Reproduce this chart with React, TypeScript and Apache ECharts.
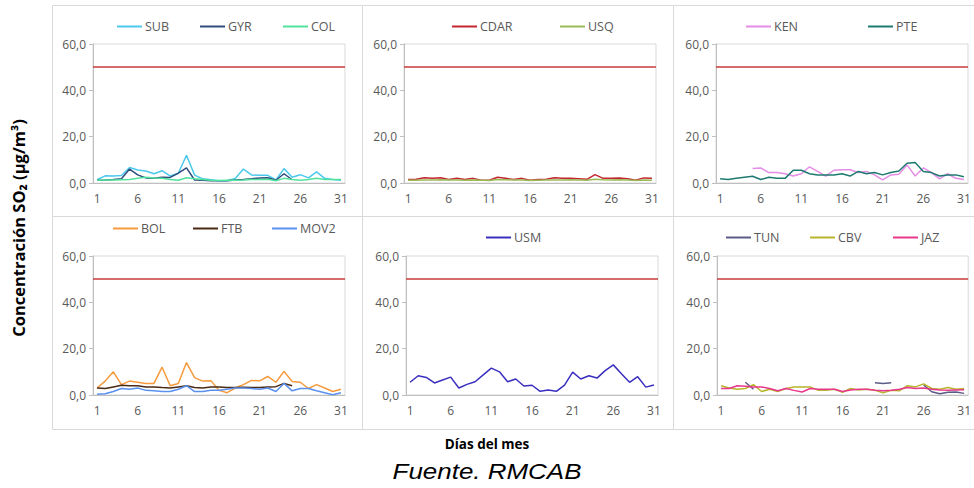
import { useEffect, useRef } from 'react';
import * as echarts from 'echarts';

// Días del mes (eje X)
const dias = [
  '1', '2', '3', '4', '5', '6', '7', '8', '9', '10', '11', '12', '13', '14', '15', '16',
  '17', '18', '19', '20', '21', '22', '23', '24', '25', '26', '27', '28', '29', '30', '31',
];

const norma = 50;

// Concentraciones diarias de SO2 (µg/m³) por estación
const sub = [1.4, 3.1, 3, 3.2, 6.7, 5.6, 5.2, 4, 5.3, 3, 4.2, 12, 3.4, 1.8, 1.4, 1, 1.1, 1.9, 6, 3.5, 3.3, 3.3, 1.3, 6.2, 2.5, 3.6, 2.2, 4.8, 2, 1.5, 1.2];
const gyr = [1.2, 1.3, 1.5, 1.8, 6, 3.5, 2.2, 2, 2.5, 2.4, 4.3, 6.5, 1.3, 1.2, 1, 1, 1, 1.3, 1.5, 1.8, 2.2, 2.3, 1.2, 4, 1.4, null, null, null, null, null, null];
const col = [1.2, 1.3, 1.3, 1.4, 1.5, 2, 2.5, 2.2, 2, 1.5, 1.2, 2.3, 1.8, 1.5, 1.2, 1.1, 1.2, 1.2, 1.3, 1.5, 1.5, 1.6, 1, 2, 1.5, 1.2, 1.5, 2, 1.5, 1.5, 1.5];

const cdar = [1.5, 1.6, 2.3, 2, 2.3, 1.5, 2, 1.5, 2, 1.2, 1.2, 2.5, 2, 1.5, 2, 1.2, 1.5, 1.6, 2.3, 2, 2, 1.8, 1.6, 3.6, 2, 2, 2.2, 1.8, 1.2, 2.2, 2];
const usq = [1.2, 1.2, 1.3, 1.3, 1.4, 1.3, 1.3, 1.2, 1.3, 1.2, 1.1, 1.5, 1.4, 1.3, 1.3, 1.1, 1.2, 1.3, 1.3, 1.3, 1.4, 1.3, 1.2, 1.6, 1.4, 1.3, 1.4, 1.3, 1.1, 1.3, 1.2];

const ken = [null, null, null, null, 6.3, 6.5, 4.5, 4.5, 4, 3, 4, 7, 5, 3, 5.5, 5.7, 5.7, 4.5, 5, 3.5, 1.3, 3.5, 3.8, 7.8, 3, 6.5, 4.5, 1.8, 4, 2, 1.5];
const pte = [1.8, 1.5, 2, 2.5, 2.9, 1.5, 2.5, 2, 2, 5.5, 5.5, 4, 3.5, 3.5, 3.5, 4, 3, 5, 4, 4.5, 3.5, 4.5, 5.2, 8.5, 8.8, 5, 4.5, 3, 3.5, 3.5, 2.7];

const bol = [3, 6, 10, 4.5, 6, 5.5, 5, 5, 12, 4, 5, 14, 7.5, 6, 6.2, 2, 1, 3, 4.5, 6.3, 6.1, 8, 5.5, 10.2, 5.8, 5.5, 2.8, 4.5, 3, 1.5, 2.5];
const ftb = [3, 2.8, 3.5, 4.2, 4, 4, 3.5, 3.5, 3.2, 3, 3.5, 4, 3.2, 3, 3.5, 3.5, 3.2, 3.2, 3.3, 3.2, 3.2, 3.4, 3.6, 5, 4, null, null, null, null, null, null];
const mov2 = [0.3, 0.5, 1.5, 2.8, 2.5, 3, 2, 1.8, 1.5, 1.5, 2.5, 4, 1.5, 1.5, 2, 2, 2.5, 3, 3, 2.8, 2.5, 3, 1.5, 5, 1.8, 2.8, 2.8, 1.8, 1, 0.1, 1];

const usm = [5.5, 8.3, 7.6, 5.2, 6.5, 7.7, 3, 4.6, 5.7, 8.7, 11.6, 10, 5.7, 6.9, 3.9, 4.2, 1.6, 2.2, 1.6, 4.3, 9.9, 6.9, 8.3, 7.3, 10.5, 13, 9.2, 5.5, 7.9, 3.4, 4.3];

const tun = [null, null, null, 5.5, 2.5, null, null, null, null, null, null, null, null, null, null, null, null, null, null, 5.3, 5, 5.3, null, null, null, 4.3, 1.4, 0.5, 1.2, 1.3, 0.7];
const cbv = [4, 3, 2.5, 2.8, 4.5, 1.5, 2.5, 1.5, 2.8, 3.5, 3.5, 3.5, 2, 2, 2.5, 1.2, 2.8, 2.2, 2.5, 2, 1, 2, 1.8, 4, 3.5, 4.8, 2.8, 2.5, 3.2, 2.5, 2.8];
const jaz = [2.8, 2.8, 4, 3.8, 3.5, 3.5, 2.8, 1.8, 2.8, 2, 1.3, 2.8, 2.5, 2.5, 2.5, 1.5, 2.2, 2.5, 2.5, 2, 1.8, 2, 2.5, 3.2, 2.8, 3, 2.5, 2.2, 2, 2.2, 2.3];

const FONT = '"Open Sans", "Noto Sans", sans-serif';
const GRAY = '#595959';
const AXIS = '#bfbfbf';
const BORDER = '#d9d9d9';
const LIMIT = '#c83a3a';

// paneles: posición del área de trazado y leyendas
const panels = [
  { left: 93, top: 44, legendY: 20, items: [
    { name: 'SUB', data: sub, color: '#4cc8ec', lx: 117 },
    { name: 'GYR', data: gyr, color: '#2f4d7c', lx: 200 },
    { name: 'COL', data: col, color: '#50e39c', lx: 283 },
  ] },
  { left: 404, top: 44, legendY: 20, items: [
    { name: 'CDAR', data: cdar, color: '#c4262e', lx: 452 },
    { name: 'USQ', data: usq, color: '#9bbb59', lx: 560 },
  ] },
  { left: 716, top: 44, legendY: 20, items: [
    { name: 'KEN', data: ken, color: '#e58de6', lx: 746 },
    { name: 'PTE', data: pte, color: '#1e7a70', lx: 868 },
  ] },
  { left: 93, top: 256, legendY: 222, items: [
    { name: 'BOL', data: bol, color: '#f79a3e', lx: 113 },
    { name: 'FTB', data: ftb, color: '#4a2a12', lx: 193 },
    { name: 'MOV2', data: mov2, color: '#5a91ee', lx: 272 },
  ] },
  { left: 406, top: 256, legendY: 231, items: [
    { name: 'USM', data: usm, color: '#3a2fbe', lx: 486 },
  ] },
  { left: 717, top: 256, legendY: 231, items: [
    { name: 'TUN', data: tun, color: '#5b5b88', lx: 726 },
    { name: 'CBV', data: cbv, color: '#b8b42c', lx: 810 },
    { name: 'JAZ', data: jaz, color: '#e8388c', lx: 893 },
  ] },
];

export default function App() {
  const chartRef = useRef<HTMLDivElement>(null);

  useEffect(() => {
    if (!chartRef.current) return;
    const chart = echarts.init(chartRef.current, null, { renderer: 'svg' });

    const grid: any[] = [];
    const xAxis: any[] = [];
    const yAxis: any[] = [];
    const series: any[] = [];
    const legend: any[] = [];

    panels.forEach((p, i) => {
      grid.push({
        left: p.left, top: p.top, width: 252, height: 139,
        show: true, borderColor: BORDER, borderWidth: 1,
      });
      xAxis.push({
        type: 'category', gridIndex: i, data: dias, boundaryGap: true,
        axisLine: { lineStyle: { color: AXIS } },
        axisTick: { interval: 5, length: 4, lineStyle: { color: AXIS } },
        axisLabel: { interval: 4, color: GRAY, fontSize: 12, fontFamily: FONT, margin: 9 },
        splitLine: { show: false },
      });
      yAxis.push({
        type: 'value', gridIndex: i, min: 0, max: 60, interval: 20,
        axisLine: { show: true, lineStyle: { color: AXIS } },
        axisTick: { show: true, length: 4, lineStyle: { color: AXIS } },
        splitLine: { show: false },
        axisLabel: {
          color: GRAY, fontSize: 12, fontFamily: FONT, margin: 7,
          formatter: (v: number) => v.toFixed(1).replace('.', ','),
        },
      });
      p.items.forEach((it, j) => {
        series.push({
          type: 'line', name: it.name, xAxisIndex: i, yAxisIndex: i,
          data: it.data, symbol: 'none', connectNulls: false,
          lineStyle: { color: it.color, width: 1.5 },
          itemStyle: { color: it.color },
          markLine: j === 0 ? {
            silent: true, symbol: 'none', label: { show: false },
            lineStyle: { color: LIMIT, width: 1.5, type: 'solid' },
            data: [{ yAxis: norma }],
          } : undefined,
        });
        legend.push({
          left: it.lx, top: p.legendY, padding: 0, data: [it.name],
          icon: 'rect', itemWidth: 25, itemHeight: 2,
          selectedMode: false,
          textStyle: { color: GRAY, fontSize: 12.5, fontFamily: FONT, padding: [0, 0, 0, -2] },
        });
      });
    });

    const box = (x: number, y: number, w: number, h: number) => ({
      type: 'rect', silent: true, z: -1,
      shape: { x, y, width: w, height: h },
      style: { fill: 'none', stroke: BORDER, lineWidth: 1 },
    });

    chart.setOption({
      animation: false,
      backgroundColor: '#ffffff',
      grid, xAxis, yAxis, series, legend,
      graphic: [
        box(52.5, 5.5, 310, 211),
        box(362.5, 5.5, 311, 211),
        box(673.5, 5.5, 310, 211),
        box(52.5, 216.5, 310, 213),
        box(362.5, 216.5, 311, 213),
        box(673.5, 216.5, 310, 213),
        {
          type: 'text', x: 18, y: 228, rotation: Math.PI / 2,
          style: {
            text: 'Concentración SO₂ (µg/m³)', fill: '#000',
            font: `bold 16.5px ${FONT}`, textAlign: 'center', textVerticalAlign: 'middle',
          },
        },
        {
          type: 'text', x: 487, y: 444,
          style: {
            text: 'Días del mes', fill: '#000',
            font: `bold 13.5px ${FONT}`, textAlign: 'center', textVerticalAlign: 'middle',
          },
        },
        {
          type: 'text', x: 487, y: 471, scaleX: 1.18,
          style: {
            text: 'Fuente. RMCAB', fill: '#000',
            font: 'italic 22px "Liberation Sans", Arial, sans-serif', textAlign: 'center', textVerticalAlign: 'middle',
          },
        },
      ],
    });

    return () => chart.dispose();
  }, []);

  return (
    <div
      ref={chartRef}
      style={{ position: 'absolute', left: 0, top: 0, width: 974, height: 488, background: '#fff' }}
    />
  );
}
